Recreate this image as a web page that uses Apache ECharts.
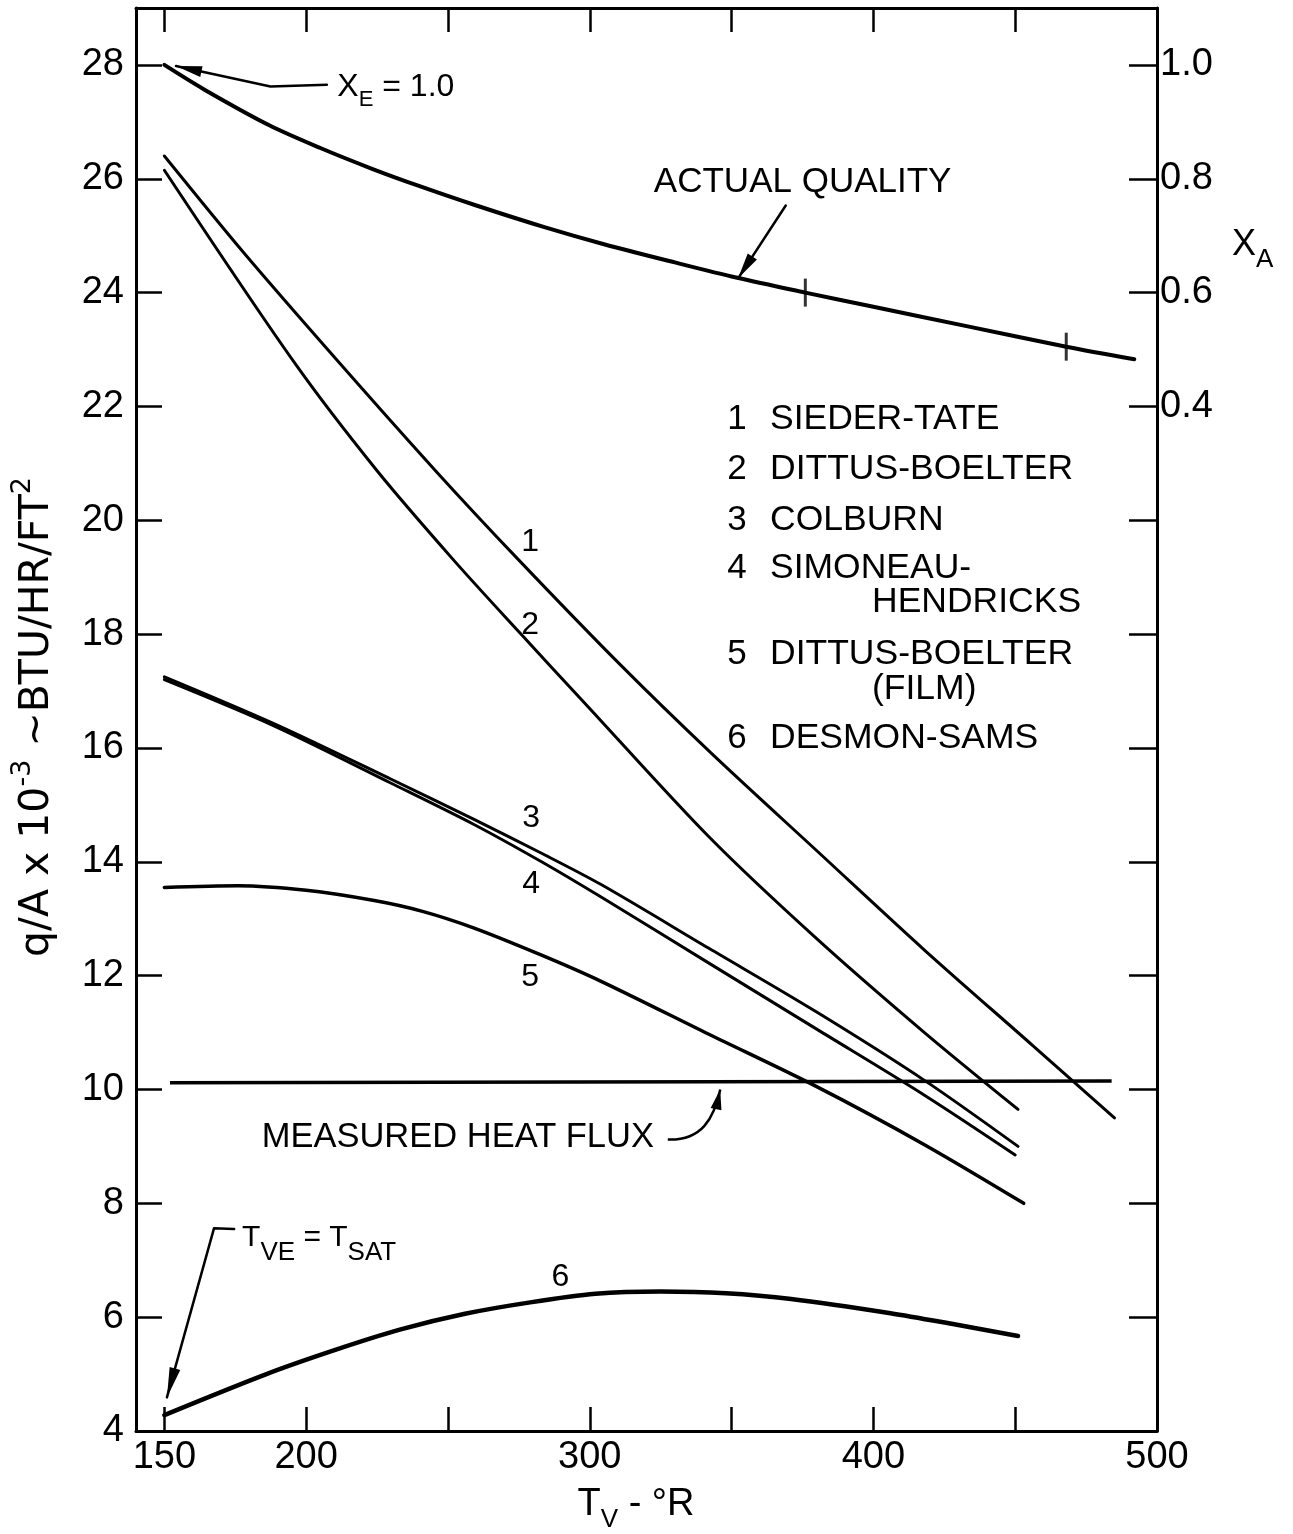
<!DOCTYPE html>
<html>
<head>
<meta charset="utf-8">
<script src="https://cdn.jsdelivr.net/npm/echarts@6/dist/echarts.min.js"></script>
<style>
  html, body { margin: 0; padding: 0; background: #fff; }
  #chart { width: 1293px; height: 1534px; }
</style>
</head>
<body>
<div id="chart"></div>
<script>
// Axis ticks and labels
const tvTicks = [150, 200, 250, 300, 350, 400, 450, 500];
const tvLabels = [150, 200, 300, 400, 500];
const fluxTicks = [6, 8, 10, 12, 14, 16, 18, 20, 22, 24, 26, 28];
const fluxLabels = [4, 6, 8, 10, 12, 14, 16, 18, 20, 22, 24, 26, 28];
const qualityAxisTicks = [-1.2, -1.0, -0.8, -0.6, -0.4, -0.2, 0.0, 0.2, 0.4, 0.6, 0.8, 1.0];
const qualityAxisLabels = [0.4, 0.6, 0.8, 1.0];

// Heat flux predictions, [T_V (deg R), q/A x 1e-3]
const siederTate = [[150, 26.4], [178, 24.7], [212, 22.75], [246, 20.85], [275, 19.3], [311, 17.45], [343, 15.9], [381, 14.15], [418, 12.45], [456, 10.78], [485, 9.5]];
const dittusBoelter = [[150, 26.15], [196, 22.76], [225, 20.87], [252, 19.3], [275, 18.04], [298, 16.8], [342, 14.44], [380, 12.65], [418, 11.0], [451, 9.65]];
const colburn = [[150, 17.25], [189, 16.42], [230, 15.45], [259, 14.75], [283, 14.15], [304, 13.6], [342, 12.48], [380, 11.36], [418, 10.16], [451, 9.0]];
const simoneauHendricks = [[150, 17.2], [189, 16.38], [230, 15.38], [259, 14.66], [283, 14.0], [304, 13.38], [342, 12.22], [380, 11.06], [418, 9.9], [450, 8.85]];
const dittusBoelterFilm = [[150, 13.55], [176, 13.58], [200, 13.5], [224, 13.32], [241, 13.13], [259, 12.84], [283, 12.36], [304, 11.9], [342, 10.97], [380, 10.05], [418, 9.03], [453, 8.0]];
const desmonSams = [[150, 4.28], [186, 5.0], [210, 5.42], [233, 5.78], [256, 6.06], [279, 6.26], [302, 6.41], [325, 6.45], [348, 6.42], [371, 6.32], [406, 6.07], [429, 5.87], [451, 5.67]];
const measuredFlux = [[152, 10.12], [484, 10.15]];

// Actual quality X_A along the tube, [T_V, X_A]
const actualQuality = [[150, 1.0], [164, 0.957], [187, 0.894], [205, 0.854], [223, 0.818], [240, 0.787], [260, 0.753], [284, 0.715], [305, 0.685], [330, 0.653], [352, 0.626], [376, 0.6], [400, 0.575], [432, 0.542], [468, 0.505], [492, 0.483]];
const qualityMarks = [[376, 0.6], [468, 0.505]];

const FONT = 'Liberation Sans';
const TITLE_FONT = 'DejaVu Sans';
const INK = '#000';

const chart = echarts.init(document.getElementById('chart'), null, { renderer: 'canvas' });

function curve(name, data, width, yIdx) {
  return {
    name, type: 'line', data, xAxisIndex: 0, yAxisIndex: yIdx || 0,
    showSymbol: false, smooth: 0.3, silent: true,
    lineStyle: { color: INK, width, cap: 'round' }
  };
}

const axisLine = { show: true, onZero: false, lineStyle: { color: INK, width: 3 } };
const tickStyle = { color: INK, width: 2.5 };

chart.setOption({
  animation: false,
  backgroundColor: '#fff',
  grid: { left: 136, right: 136, top: 8, bottom: 103, containLabel: false },
  xAxis: [
    {
      type: 'value', min: 140, max: 500, position: 'bottom',
      axisLine, splitLine: { show: false },
      axisTick: { inside: true, length: 24, lineStyle: tickStyle, customValues: tvTicks },
      axisLabel: { customValues: tvLabels, color: INK, fontSize: 38, fontFamily: FONT, margin: 8 }
    },
    {
      type: 'value', min: 140, max: 500, position: 'top',
      axisLine, splitLine: { show: false },
      axisTick: { inside: true, length: 24, lineStyle: tickStyle, customValues: tvTicks },
      axisLabel: { show: false }
    }
  ],
  yAxis: [
    {
      type: 'value', min: 4, max: 29, position: 'left',
      axisLine, splitLine: { show: false },
      axisTick: { inside: true, length: 26, lineStyle: tickStyle, customValues: fluxTicks },
      axisLabel: { customValues: fluxLabels, color: INK, fontSize: 38, fontFamily: FONT, margin: 12 }
    },
    {
      type: 'value', min: -1.4, max: 1.1, position: 'right',
      axisLine, splitLine: { show: false },
      axisTick: { inside: true, length: 28, lineStyle: tickStyle, customValues: qualityAxisTicks },
      axisLabel: {
        customValues: qualityAxisLabels, color: INK, fontSize: 38, fontFamily: FONT, margin: 3,
        formatter: v => Number(v).toFixed(1)
      }
    }
  ],
  series: [
    curve('Sieder-Tate', siederTate, 3),
    curve('Dittus-Boelter', dittusBoelter, 3),
    curve('Colburn', colburn, 3),
    curve('Simoneau-Hendricks', simoneauHendricks, 3),
    curve('Dittus-Boelter (film)', dittusBoelterFilm, 3.5),
    curve('Desmon-Sams', desmonSams, 4.5),
    { name: 'Measured heat flux', type: 'line', data: measuredFlux, showSymbol: false, silent: true,
      lineStyle: { color: INK, width: 3.5 } },
    curve('Actual quality', actualQuality, 4, 1),
    { name: 'Quality marks', type: 'scatter', data: qualityMarks, xAxisIndex: 0, yAxisIndex: 1,
      symbol: 'rect', symbolSize: [3, 28], itemStyle: { color: INK }, silent: true }
  ]
});

// ---- annotations, placed in data space ----
const P = (t, q) => chart.convertToPixel({ xAxisIndex: 0, yAxisIndex: 0 }, [t, q]);

function richSet(main, small, family) {
  const f = family || FONT;
  return {
    m: { fontSize: main, lineHeight: main, fontFamily: f, color: INK, verticalAlign: 'top' },
    b: { fontSize: main, lineHeight: main, fontFamily: f, color: INK, verticalAlign: 'bottom' },
    sub: { fontSize: small, lineHeight: small, fontFamily: f, color: INK,
           padding: [Math.round(main * 0.55), 0, 0, 0], verticalAlign: 'top' },
    sup: { fontSize: small, lineHeight: small, fontFamily: f, color: INK,
           padding: [0, 0, Math.round(main * 0.5), 0], verticalAlign: 'bottom' }
  };
}

function text(pos, str, size, align) {
  return {
    type: 'text', x: pos[0], y: pos[1], silent: true,
    style: { text: str, fontSize: size, fontFamily: FONT, fill: INK,
             align: align || 'left', verticalAlign: 'middle' }
  };
}

function richText(pos, str, main, small, align, vAlign, rotation, family) {
  return {
    type: 'text', x: pos[0], y: pos[1], rotation: rotation || 0, silent: true,
    style: { text: str, rich: richSet(main, small, family), fill: INK,
             align: align || 'left', verticalAlign: vAlign || 'middle' }
  };
}

function line(points, width) {
  return { type: 'polyline', silent: true, shape: { points },
           style: { stroke: INK, lineWidth: width || 2.5, fill: null, lineCap: 'round', lineJoin: 'round' } };
}

function arrowHead(tip, from, len, half) {
  const dx = tip[0] - from[0], dy = tip[1] - from[1];
  const d = Math.hypot(dx, dy) || 1;
  const ux = dx / d, uy = dy / d;
  const bx = tip[0] - ux * len, by = tip[1] - uy * len;
  return { type: 'polygon', silent: true,
           shape: { points: [tip, [bx - uy * half, by + ux * half], [bx + uy * half, by - ux * half]] },
           style: { fill: INK } };
}

const g = [];

// curve numbers
[['1', 279, 19.61], ['2', 279, 18.15], ['3', 279.3, 14.77], ['4', 279.3, 13.6], ['5', 279, 11.97], ['6', 289.6, 6.71]]
  .forEach(([s, t, q]) => g.push(text(P(t, q), s, 32, 'center')));

// key to the curves
const keyRows = [
  ['1', 'SIEDER-TATE', 419], ['2', 'DITTUS-BOELTER', 469], ['3', 'COLBURN', 520],
  ['4', 'SIMONEAU-', 568], ['', 'HENDRICKS', 602, 872], ['5', 'DITTUS-BOELTER', 654],
  ['', '(FILM)', 689, 872], ['6', 'DESMON-SAMS', 738]
];
keyRows.forEach(([n, s, y, x]) => {
  if (n) g.push(text([737, y], n, 35, 'center'));
  g.push(text([x || 770, y], s, 35.5, 'left'));
});

// actual quality callout
g.push(text(P(322.6, 25.93), 'ACTUAL QUALITY', 35, 'left'));
{
  const a = P(369.1, 25.53), tip = P(352.3, 24.25);
  g.push(line([a, tip], 2.5));
  g.push(arrowHead(tip, a, 26, 5.5));
}

// equilibrium quality callout
g.push(richText(P(211.0, 27.61), '{m|X}{sub|E}{m| = 1.0}', 32, 22, 'left', 'middle'));
{
  const p1 = P(207.3, 27.65), p2 = P(187.4, 27.62), tip = P(154.1, 27.98);
  g.push(line([p1, p2, tip], 2.5));
  g.push(arrowHead(tip, p2, 26, 5.5));
}

// measured heat flux callout
g.push(text(P(184.3, 9.15), 'MEASURED HEAT FLUX', 34.5, 'left'));
{
  const s = P(327.5, 9.12), c1 = P(339.5, 9.10), c2 = P(343.8, 9.49), tip = P(346.0, 10.0);
  g.push({ type: 'bezierCurve', silent: true,
           shape: { x1: s[0], y1: s[1], cpx1: c1[0], cpy1: c1[1], cpx2: c2[0], cpy2: c2[1], x2: tip[0], y2: tip[1] },
           style: { stroke: INK, lineWidth: 2.5, fill: null } });
  g.push(arrowHead(tip, c2, 20, 5.5));
}

// saturation callout
g.push(richText(P(177.4, 7.40), '{m|T}{sub|VE}{m| = T}{sub|SAT}', 30, 26, 'left', 'middle'));
{
  const s0 = P(174.6, 7.55), s1 = P(167.5, 7.56), tip = P(150.9, 4.59);
  g.push(line([s0, s1, tip], 2.5));
  g.push(arrowHead(tip, s1, 30, 5.5));
}

// axis titles
g.push(richText([37, 717], '{b|q/A x 10}{sup|-3}{b| ~BTU/HR/FT}{sup|2}', 41, 27, 'center', 'middle', Math.PI / 2, TITLE_FONT));
g.push(richText([636, 1486], '{m|T}{sub|V}{m| - °R}', 38, 26, 'center', 'top'));
g.push(richText([1232, 245], '{m|X}{sub|A}', 36, 26, 'left', 'middle'));

chart.setOption({ graphic: g });
</script>
</body>
</html>
